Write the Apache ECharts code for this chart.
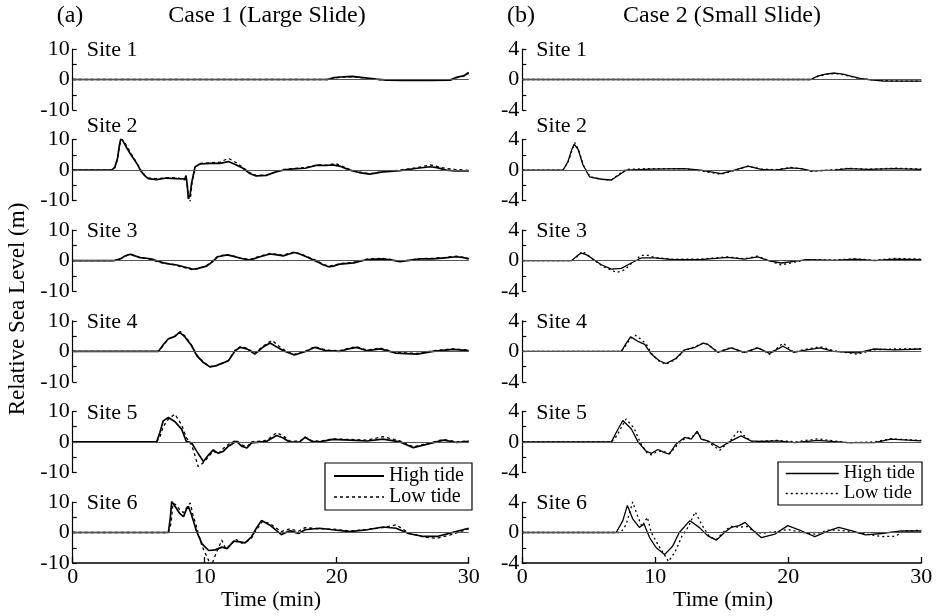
<!DOCTYPE html>
<html>
<head>
<meta charset="utf-8">
<script src="https://cdn.jsdelivr.net/npm/echarts@6/dist/echarts.min.js"></script>
<style>
html,body{margin:0;padding:0;background:#fff;}
#chart{width:938px;height:616px;}
</style>
</head>
<body>
<div id="chart"></div>
<script>
// ---------------- DATA (time in min, relative sea level in m) ----------------
const siteNames = ['Site 1', 'Site 2', 'Site 3', 'Site 4', 'Site 5', 'Site 6'];
const caseTitles = ['Case 1 (Large Slide)', 'Case 2 (Small Slide)'];
const panelLetters = ['(a)', '(b)'];
const xTickValues = [0, 10, 20, 30];
const yLimits = [10, 4];
const yMinorStep = [5, 2];

// Case 1 (Large Slide)
const c1s1High = [[0,0],[19.3,0],[19.8,0.6],[20.5,0.9],[21.2,1.0],[22,0.6],[23,0.1],[23.8,-0.2],[25,-0.3],[27,-0.3],[28.6,-0.2],[29,0.6],[29.4,1.0],[29.7,1.4],[30,2.3]];
const c1s1Low = [[0,0],[19.3,0],[19.8,0.5],[20.5,0.8],[21.2,0.9],[22,0.5],[23,0],[23.8,-0.2],[25,-0.3],[27,-0.2],[28.6,-0.1],[29,0.5],[29.4,0.9],[29.7,1.2],[30,2.0]];
const c1s2High = [[0,0],[2.95,0],[3.2,1.0],[3.4,4.0],[3.55,8.5],[3.66,10.5],[3.8,9.6],[3.96,8.3],[4.34,5.5],[4.85,2.2],[5.2,-0.5],[5.5,-2.0],[5.73,-2.8],[6.36,-3.1],[7.1,-2.6],[7.9,-2.8],[8.5,-2.9],[8.58,-1.8],[8.68,-5],[8.76,-9.4],[8.83,-10],[8.9,-8],[9.0,-4.4],[9.27,1.1],[9.64,2.0],[10.4,2.2],[11.16,2.2],[11.8,2.8],[12.4,1.7],[12.9,0.6],[13.4,-1.1],[13.9,-1.9],[14.7,-1.7],[15.45,-0.5],[16.2,0.2],[17,0.5],[17.6,0.6],[18.5,1.6],[19.2,1.5],[19.7,1.7],[20.3,1.2],[21,0],[21.7,-0.8],[22.5,-1.3],[23.5,-0.6],[24.8,-0.2],[26.1,0.6],[27.1,1.1],[27.6,0.8],[28.3,0],[29,-0.3],[30,-0.3]];
const c1s2Low = [[0,0],[2.95,0],[3.2,0.8],[3.4,3.6],[3.55,8.0],[3.7,10.2],[3.85,9.6],[4.0,8.6],[4.4,5.6],[4.9,2.0],[5.25,-0.6],[5.5,-2.0],[5.75,-2.6],[6.36,-2.8],[7.1,-2.5],[7.9,-2.5],[8.5,-3.2],[8.6,-2.2],[8.7,-6],[8.8,-9.8],[8.88,-10.6],[8.95,-8],[9.05,-4],[9.3,1.0],[9.7,2.2],[10.4,2.4],[11.16,2.6],[11.8,3.9],[12.4,2.4],[12.9,0.8],[13.4,-0.8],[13.9,-1.8],[14.7,-1.6],[15.45,-0.4],[16.2,0.4],[17,0.6],[17.6,0.8],[18.5,1.7],[19.2,1.6],[19.9,2.2],[20.4,1.3],[21,0.2],[21.7,-0.6],[22.5,-1.2],[23.5,-0.5],[24.8,0],[26.1,0.8],[27.1,1.7],[27.6,1.2],[28.3,0.5],[29,0.2],[30,-0.1]];
const c1s3High = [[0,0],[3.1,0],[3.6,0.6],[4.0,1.6],[4.34,2.1],[4.7,1.6],[5.1,1.0],[5.6,0.8],[6.0,0.5],[6.4,-0.1],[6.9,-0.7],[7.4,-1.1],[7.9,-1.4],[8.4,-2],[8.8,-2.4],[9.1,-2.8],[9.5,-2.5],[10.15,-1.8],[10.6,-0.3],[11.0,1.3],[11.7,1.9],[12.2,1.4],[12.7,0.8],[13.4,0.2],[14.2,1.3],[14.95,2.2],[15.5,1.9],[15.95,1.6],[16.4,2.2],[16.8,2.7],[17.2,2.2],[17.7,1.3],[18.5,-0.3],[19.0,-1.4],[19.4,-2],[19.8,-1.7],[20.25,-1.1],[21.3,-0.7],[22.3,0.4],[23.5,0.6],[24.2,0.2],[24.8,-0.3],[25.5,0.1],[26.3,0.6],[27.3,0.6],[28.2,0.9],[29.1,1.3],[29.6,1.0],[30,0.6]];
const c1s3Low = [[0,0],[3.1,0],[3.6,0.5],[4.0,1.5],[4.4,2.2],[4.8,1.5],[5.1,1.1],[5.6,0.7],[6.0,0.3],[6.4,-0.3],[6.9,-0.9],[7.4,-1.0],[7.9,-1.6],[8.4,-2.2],[8.8,-2.6],[9.1,-3.0],[9.5,-2.6],[10.15,-1.6],[10.6,0],[11.0,1.5],[11.7,2.0],[12.2,1.5],[12.7,0.9],[13.4,0.4],[14.2,1.5],[14.95,2.4],[15.5,2.1],[15.95,1.8],[16.4,2.4],[16.8,2.9],[17.2,2.3],[17.7,1.5],[18.5,0],[19.0,-1.2],[19.4,-1.8],[19.8,-1.5],[20.25,-0.9],[21.3,-0.5],[22.3,0.5],[23.5,0.8],[24.2,0.3],[24.8,-0.2],[25.5,0.2],[26.3,0.7],[27.3,0.8],[28.2,1.1],[29.1,1.5],[29.6,1.1],[30,0.7]];
const c1s4High = [[0,0],[6.5,0],[6.7,1.2],[6.9,2.4],[7.25,4.1],[7.75,4.9],[8.1,6.3],[8.5,4.7],[9.0,1.9],[9.4,-1.4],[9.9,-3.7],[10.4,-5.1],[10.8,-4.8],[11.15,-4.2],[11.8,-3.1],[12.3,0.2],[12.7,1.3],[13.2,0.8],[13.8,-0.9],[14.4,1.3],[14.95,2.7],[15.7,0.8],[16.2,-0.2],[16.8,-1.2],[17.7,0],[18.35,1.3],[19.2,0.2],[20.25,0],[20.9,0.8],[21.5,1.3],[22.3,0.2],[23.3,0.8],[24.5,-0.6],[26.1,-0.9],[27.3,0],[28.8,0.6],[30,0.2]];
const c1s4Low = [[0,0],[6.5,0],[6.7,1.0],[6.9,2.2],[7.25,4.0],[7.75,5.0],[8.15,6.5],[8.55,4.8],[9.0,2.0],[9.4,-1.2],[9.9,-3.5],[10.4,-5.0],[10.8,-4.9],[11.15,-4.3],[11.8,-3.0],[12.3,0.4],[12.7,1.5],[13.2,1.0],[13.8,-0.6],[14.4,1.6],[15.1,3.6],[15.7,1.4],[16.2,0],[16.8,-1.0],[17.7,0.2],[18.35,1.5],[19.2,0.4],[20.25,0.2],[20.9,1.0],[21.5,1.5],[22.3,0.4],[23.3,1.1],[24.5,-0.4],[26.1,-0.7],[27.3,0.2],[28.8,0.8],[30,0.4]];
const c1s5High = [[0,0],[6.36,0],[6.6,3],[6.86,6.9],[7.25,8.0],[7.75,6.6],[8.26,4.1],[8.6,0.2],[9.0,-0.3],[9.4,-3.1],[9.9,-6.4],[10.3,-4.2],[10.65,-2.6],[11.0,-3.7],[11.4,-3.1],[11.8,-1.4],[12.4,0.2],[12.8,-1.4],[13.2,-2],[13.55,-0.3],[14.7,0.2],[15.45,2.1],[15.95,1.3],[16.45,-0.1],[17.2,0],[17.6,1.5],[18.1,0.2],[18.7,0],[19.7,0.8],[21,0.6],[22.3,0.3],[23.5,0.9],[24.8,0],[25.8,-1.9],[26.8,-0.8],[28.1,0.6],[29.1,-0.2],[30,0.2]];
const c1s5Low = [[0,0],[6.36,0],[6.6,1.5],[6.86,5],[7.25,7.5],[7.75,9.1],[8.26,5.5],[8.6,1.5],[9.0,-1.0],[9.3,-5],[9.5,-8.1],[9.9,-6.8],[10.3,-4.8],[10.65,-3.0],[11.0,-4.0],[11.4,-2.2],[11.8,-0.8],[12.4,0.6],[12.8,-1.0],[13.2,-1.6],[13.55,0],[14.7,0.5],[15.45,3.0],[15.95,2.0],[16.45,0.3],[17.2,0.2],[17.6,1.6],[18.1,0.4],[18.7,0.2],[19.7,1.0],[21,0.8],[22.3,0.6],[23.5,1.7],[24.8,0.3],[25.8,-1.6],[26.8,-0.6],[28.1,0.8],[29.1,0],[30,0.3]];
const c1s6High = [[0,0],[7.25,0],[7.4,5],[7.5,10.2],[7.75,8.6],[8.1,6.3],[8.4,5.2],[8.6,7.5],[8.76,8.6],[9.0,5.8],[9.4,0.2],[9.8,-3.7],[10.3,-5.9],[10.8,-5.7],[11.3,-4.8],[11.7,-5.3],[12.2,-2.8],[12.7,-3.1],[13.05,-3.4],[13.55,-1.4],[13.9,1.3],[14.3,3.9],[14.95,2.4],[15.8,-0.7],[16.45,0.6],[17.1,-0.3],[17.6,0.9],[18.7,1.4],[19.7,0.9],[21,0.3],[22.3,0.9],[23.5,1.8],[24.5,1.4],[25.5,-0.4],[26.6,-1.3],[27.6,-1.3],[28.6,-0.2],[30,1.4]];
const c1s6Low = [[0,0],[7.25,0],[7.45,3],[7.6,9.6],[7.85,9.0],[8.1,7.5],[8.4,6.5],[8.7,8.5],[8.9,9.7],[9.1,6],[9.4,1.5],[9.8,-4.5],[10.3,-9.2],[10.5,-11],[10.8,-7.5],[11.1,-4.5],[11.3,-2.5],[11.6,-5.5],[12.0,-3.8],[12.4,-2.3],[12.8,-3.5],[13.2,-3.0],[13.55,-1.8],[13.9,0.8],[14.4,3.7],[15.0,2.8],[15.8,0.3],[16.45,1.2],[17.1,0.4],[17.6,1.6],[18.7,1.2],[19.7,1.1],[21,0.5],[22.3,1.0],[23.5,1.6],[24.5,2.5],[25.5,-0.2],[26.6,-1.5],[27.6,-1.9],[28.6,-0.8],[30,1.2]];

// Case 2 (Small Slide)
const c2s1High = [[0,0],[21.7,0],[22.2,0.44],[22.8,0.7],[23.5,0.85],[24.1,0.7],[24.7,0.44],[25.4,0.15],[26,0],[27.2,-0.2],[28.5,-0.2],[30,-0.2]];
const c2s1Low = [[0,0],[21.7,0],[22.2,0.4],[22.8,0.65],[23.5,0.8],[24.1,0.65],[24.7,0.4],[25.4,0.1],[26,0],[27.2,-0.15],[28.5,-0.2],[30,-0.2]];
const c2s2High = [[0,0],[3.06,0],[3.43,1.1],[3.7,2.6],[3.9,3.4],[4.2,2.7],[4.56,0.7],[5.06,-0.9],[5.94,-1.2],[6.7,-1.3],[7.3,-0.6],[7.8,0],[9.7,0.13],[12.2,0.2],[13.4,0],[14.95,-0.45],[15.95,0],[16.96,0.53],[17.96,0.1],[19,0],[20.2,0.3],[21,0.2],[21.7,-0.1],[23.5,0],[24.5,0.2],[26,0.1],[28,0.2],[30,0.1]];
const c2s2Low = [[0,0],[3.06,0],[3.43,1.0],[3.7,2.4],[3.95,3.6],[4.25,2.6],[4.6,0.6],[5.1,-0.9],[5.94,-1.2],[6.7,-1.3],[7.3,-0.5],[7.8,0.1],[9.7,0.2],[12.2,0.2],[13.4,-0.1],[14.95,-0.55],[15.95,-0.05],[16.96,0.5],[17.96,0.15],[19,0.05],[20.2,0.35],[21,0.15],[21.7,-0.15],[23.5,0.05],[24.5,0.25],[26,0.1],[28,0.25],[30,0.15]];
const c2s3High = [[0,0],[3.7,0],[4.1,0.6],[4.43,1.0],[4.8,0.8],[5.2,0.36],[5.94,-0.53],[6.7,-1.1],[7.44,-1.0],[8.2,-0.3],[8.94,0.36],[9.95,0.36],[11.3,0.13],[13.4,0.13],[15.45,0.44],[16.7,0.2],[17.7,0.5],[18.5,0],[19.45,-0.3],[20.45,-0.1],[21.4,0.13],[23.5,0.05],[25,0.2],[26.5,0],[28,0.2],[30,0.13]];
const c2s3Low = [[0,0],[3.7,0],[4.1,0.5],[4.5,1.2],[4.9,0.8],[5.3,0.2],[6.1,-0.8],[7.1,-1.55],[7.7,-1.2],[8.3,-0.2],[8.94,0.7],[9.5,0.7],[9.95,0.4],[11.3,0.2],[13.4,0.2],[15.45,0.5],[16.7,0.25],[17.7,0.6],[18.5,0.05],[19.45,-0.55],[20.45,-0.2],[21.4,0.15],[23.5,0.1],[25,0.25],[26.5,0.05],[28,0.3],[30,0.2]];
const c2s4High = [[0,0],[7.44,0],[7.8,1.0],[8.14,1.9],[8.7,1.3],[9.2,0.9],[9.7,-0.36],[10.3,-1.24],[10.8,-1.6],[11.5,-1.0],[12.2,0.2],[13.0,0.53],[13.6,1.07],[13.95,0.9],[14.7,-0.13],[15.7,0.44],[16.7,-0.13],[17.7,0.44],[18.6,-0.27],[19.6,0.67],[20.4,-0.13],[21.4,0.18],[22.4,0.44],[23.4,0],[25.2,-0.2],[26.4,0.3],[28,0.2],[30,0.3]];
const c2s4Low = [[0,0],[7.44,0],[7.8,0.8],[8.14,1.7],[8.5,2.1],[8.9,1.6],[9.3,1.0],[9.8,-0.5],[10.3,-1.3],[10.8,-1.7],[11.5,-1.1],[12.2,0.1],[13.0,0.6],[13.6,1.1],[13.95,0.9],[14.7,-0.1],[15.7,0.5],[16.7,-0.2],[17.7,0.5],[18.6,-0.4],[19.6,1.07],[20.4,-0.1],[21.4,0.3],[22.4,0.6],[23.4,0.1],[25.2,-0.4],[26.4,0.2],[28,0.3],[30,0.3]];
const c2s5High = [[0,0],[6.7,0],[7.06,1.24],[7.56,2.8],[8.2,1.7],[8.7,0],[9.3,-1.2],[9.7,-1.5],[10.2,-1.0],[10.7,-1.4],[11.05,-1.6],[11.55,-0.3],[12.2,0.58],[12.7,0.36],[13.15,1.4],[13.45,0.36],[13.95,0.13],[14.85,-0.76],[15.7,0.13],[16.45,0.8],[17.2,0.13],[17.95,0.05],[19.2,0.13],[20.5,-0.1],[22.2,0.2],[24.5,-0.1],[26.5,-0.1],[27.7,0.36],[30,0.13]];
const c2s5Low = [[0,0],[6.7,0],[7.1,0.8],[7.8,3.0],[8.4,1.8],[8.9,-0.2],[9.4,-1.5],[9.7,-1.7],[10.2,-1.2],[10.7,-1.3],[11.1,-1.5],[11.6,-0.5],[12.2,0.4],[12.7,0.6],[13.2,1.2],[13.5,0.4],[13.95,0],[14.85,-1.1],[15.7,0.3],[16.3,1.55],[16.8,0.6],[17.4,-0.1],[17.95,0.1],[19.2,0.2],[20.5,0],[22.2,0.4],[24.5,-0.1],[26.5,0],[27.7,0.4],[30,0.2]];
const c2s6High = [[0,0],[7.06,0],[7.56,1.55],[7.9,3.55],[8.3,1.8],[8.8,0.67],[9.15,1.1],[9.57,-0.67],[10.07,-2.0],[10.7,-2.9],[11.3,-1.8],[11.8,0],[12.6,1.55],[13.3,0.67],[13.95,-0.44],[14.6,-1.0],[15.2,0],[15.7,0.67],[16.3,0.9],[16.75,1.33],[17.4,0.2],[17.96,-0.67],[19,-0.2],[19.96,0.9],[21,0.2],[22,-0.53],[23,0.2],[23.8,0.67],[24.8,0.2],[25.8,-0.3],[27,-0.13],[28.5,0.2],[30,0.2]];
const c2s6Low = [[0,0],[7.4,0],[7.8,1.0],[8.3,4.0],[8.7,2.0],[9.0,0.8],[9.4,2.0],[9.7,0],[10.2,-1.6],[11.0,-3.8],[11.5,-2.5],[12.0,-0.5],[12.5,0.8],[13.0,2.7],[13.5,1.0],[14.1,-0.6],[14.6,-0.9],[15.2,0.2],[15.7,0.8],[16.3,0.7],[16.9,0.8],[17.4,0.1],[18,-0.1],[19,0.1],[19.96,0.4],[21,0],[22,-0.2],[23,0.3],[23.8,0.3],[24.8,0.1],[25.8,-0.2],[27,-0.53],[28,-0.5],[28.8,0.2],[30,0.3]];

const highTide = [[c1s1High, c1s2High, c1s3High, c1s4High, c1s5High, c1s6High],
                  [c2s1High, c2s2High, c2s3High, c2s4High, c2s5High, c2s6High]];
const lowTide  = [[c1s1Low, c1s2Low, c1s3Low, c1s4Low, c1s5Low, c1s6Low],
                  [c2s1Low, c2s2Low, c2s3Low, c2s4Low, c2s5Low, c2s6Low]];

// ---------------- LAYOUT ----------------
const FONT = '"Liberation Serif", "Times New Roman", serif';
const colLeft = [72.7, 522.3];
const colWidth = [396, 399];
const zero0 = 79.5, rowStep = 90.6, half = 30.5;
const highWidth = [1.7, 1.3];
const lowDash = [[3, 3], [2, 3]];

const grids = [], xAxes = [], yAxes = [], series = [], graphics = [];
let k = 0;
for (let c = 0; c < 2; c++) {
  for (let r = 0; r < 6; r++) {
    const zeroY = zero0 + rowStep * r;
    const isBottom = r === 5;
    grids.push({left: colLeft[c], top: zeroY - half, width: colWidth[c], height: 2 * half});
    xAxes.push({
      gridIndex: k, type: 'value', min: 0, max: 30, interval: 10,
      show: isBottom,
      axisLine: {show: true, onZero: false, lineStyle: {color: '#000', width: 1.5}},
      axisTick: {show: true, inside: true, length: 6, lineStyle: {color: '#000', width: 1.3}},
      axisLabel: {show: true, color: '#000', fontFamily: FONT, fontSize: 22, margin: 3,
                  formatter: v => (xTickValues.indexOf(v) >= 0 ? String(v) : '')},
      splitLine: {show: false}
    });
    const L = yLimits[c];
    yAxes.push({
      gridIndex: k, type: 'value', min: -L, max: L, interval: yMinorStep[c],
      axisLine: {show: true, onZero: false, lineStyle: {color: '#000', width: 1.2}},
      axisTick: {show: true, inside: true, length: 4, lineStyle: {color: '#000', width: 1.2}},
      axisLabel: {show: true, color: '#000', fontFamily: FONT, fontSize: 22, margin: 3,
                  formatter: v => (Math.abs(v) === L || v === 0 ? String(v) : '')},
      splitLine: {show: false}
    });
    series.push({
      type: 'line', name: 'Low tide', xAxisIndex: k, yAxisIndex: k,
      data: lowTide[c][r], symbol: 'none', showSymbol: false, z: 2,
      itemStyle: {color: '#000'},
      lineStyle: {color: '#000', width: 1.3, type: lowDash[c]},
      markLine: {silent: true, symbol: ['none', 'none'], label: {show: false}, animation: false,
                 lineStyle: {color: '#555', width: 1, type: 'solid'}, data: [{yAxis: 0}]}
    });
    series.push({
      type: 'line', name: 'High tide', xAxisIndex: k, yAxisIndex: k,
      data: highTide[c][r], symbol: 'none', showSymbol: false, z: 3,
      itemStyle: {color: '#000'},
      lineStyle: {color: '#000', width: highWidth[c], type: 'solid'}
    });
    graphics.push({
      type: 'text', left: colLeft[c] + 14, top: zeroY - (r === 1 ? 43 : 28) - 12,
      style: {text: siteNames[r], font: '22px ' + FONT, fill: '#000'}
    });
    k++;
  }
}

const titleCenters = [267, 722];
const letterCenters = [70, 521];
for (let c = 0; c < 2; c++) {
  graphics.push({type: 'text', x: letterCenters[c], y: 16,
    style: {text: panelLetters[c], font: '24px ' + FONT, fill: '#000', textAlign: 'center', textVerticalAlign: 'middle'}});
  graphics.push({type: 'text', x: titleCenters[c], y: 16,
    style: {text: caseTitles[c], font: '24px ' + FONT, fill: '#000', textAlign: 'center', textVerticalAlign: 'middle'}});
}
const xTitleCenters = [271, 723];
for (let c = 0; c < 2; c++) {
  graphics.push({type: 'text', x: xTitleCenters[c], y: 600,
    style: {text: 'Time (min)', font: '22px ' + FONT, fill: '#000', textAlign: 'center', textVerticalAlign: 'middle'}});
}
graphics.push({type: 'text', x: 18, y: 309, rotation: Math.PI / 2,
  style: {text: 'Relative Sea Level (m)', font: '23px ' + FONT, fill: '#000', textAlign: 'center', textVerticalAlign: 'middle'}});

const hiddenSymbol = {color: 'rgba(0,0,0,0)', borderColor: 'rgba(0,0,0,0)', borderWidth: 0, opacity: 0};
const legendCommon = {
  orient: 'vertical', borderColor: '#000', borderWidth: 1.2, backgroundColor: '#fff',
  selectedMode: false, itemGap: 1, itemStyle: hiddenSymbol
};

const option = {
  animation: false,
  backgroundColor: '#fff',
  grid: grids,
  xAxis: xAxes,
  yAxis: yAxes,
  series: series,
  graphic: graphics,
  legend: [
    Object.assign({}, legendCommon, {
      left: 325, top: 463, padding: [3, 8], itemWidth: 50, itemHeight: 20,
      textStyle: {fontFamily: FONT, fontSize: 20, color: '#000'},
      data: [
        {name: 'High tide', itemStyle: hiddenSymbol, lineStyle: {color: '#000', width: 2, type: 'solid'}},
        {name: 'Low tide', itemStyle: hiddenSymbol, lineStyle: {color: '#000', width: 1.3, type: [3, 3]}}
      ]
    }),
    Object.assign({}, legendCommon, {
      left: 778, top: 462, padding: [2, 7], itemWidth: 53, itemHeight: 18,
      textStyle: {fontFamily: FONT, fontSize: 19, color: '#000'},
      data: [
        {name: 'High tide', itemStyle: hiddenSymbol, lineStyle: {color: '#000', width: 1.3, type: 'solid'}},
        {name: 'Low tide', itemStyle: hiddenSymbol, lineStyle: {color: '#000', width: 1.5, type: [2, 3]}}
      ]
    })
  ]
};

const chart = echarts.init(document.getElementById('chart'), null, {renderer: 'canvas'});
chart.setOption(option);
</script>
</body>
</html>
